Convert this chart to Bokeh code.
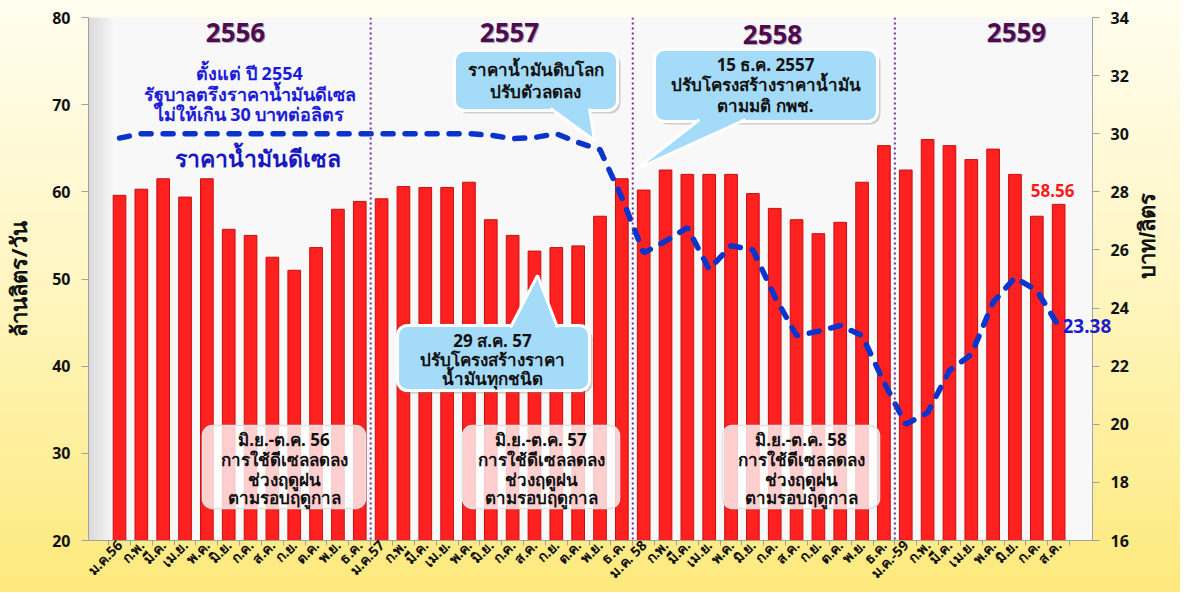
from math import pi
from bokeh.plotting import figure
from bokeh.models import Range1d, LinearAxis, FixedTicker, Span, Label
from bokeh.embed import file_html
from bokeh.resources import INLINE

# ---------------- data ----------------
months = ["ม.ค.56", "ก.พ.", "มี.ค.", "เม.ย.", "พ.ค.", "มิ.ย.", "ก.ค.", "ส.ค.", "ก.ย.", "ต.ค.", "พ.ย.", "ธ.ค.",
          "ม.ค.57", "ก.พ.", "มี.ค.", "เม.ย.", "พ.ค.", "มิ.ย.", "ก.ค.", "ส.ค.", "ก.ย.", "ต.ค.", "พ.ย.", "ธ.ค.",
          "ม.ค. 58", "ก.พ.", "มี.ค.", "เม.ย.", "พ.ค.", "มิ.ย.", "ก.ค.", "ส.ค.", "ก.ย.", "ต.ค.", "พ.ย.", "ธ.ค.",
          "ม.ค.-59", "ก.พ.", "มี.ค.", "เม.ย.", "พ.ค.", "มิ.ย.", "ก.ค.", "ส.ค."]
volume = [59.6, 60.3, 61.5, 59.4, 61.5, 55.7, 55.0, 52.5, 51.0, 53.6, 58.0, 58.9,
          59.2, 60.6, 60.5, 60.5, 61.1, 56.8, 55.0, 53.2, 53.6, 53.8, 57.2, 61.5,
          60.2, 62.5, 62.0, 62.0, 62.0, 59.8, 58.1, 56.8, 55.2, 56.5, 61.1, 65.3,
          62.5, 66.0, 65.3, 63.7, 64.9, 62.0, 57.2, 58.56]
price = [29.85, 30.0, 30.0, 30.0, 30.0, 30.0, 30.0, 30.0, 30.0, 30.0, 30.0, 30.0,
         30.0, 30.0, 30.0, 30.0, 30.0, 29.95, 29.83, 29.87, 30.0, 29.7, 29.45, 27.8,
         25.9, 26.3, 26.77, 25.33, 26.15, 26.0, 24.4, 23.05, 23.2, 23.4, 23.05, 21.45,
         20.0, 20.4, 21.85, 22.4, 24.2, 25.05, 24.6, 23.38]
years = ["2556", "2557", "2558", "2559"]
left_ticks = [20, 30, 40, 50, 60, 70, 80]
right_ticks = [16, 18, 20, 22, 24, 26, 28, 30, 32, 34]

FONT = "Noto Sans"

W, H = 1180, 592
FL, FR, FT, FB = 88, 88, 17, 52
x_lo, x_hi = -1.42, 44.55
y_lo, y_hi = 20, 80
r_lo, r_hi = 16, 34
FW = W - FL - FR
FH = H - FT - FB


def dx(px):  # page px -> data x
    return x_lo + (px - 8 - FL) / FW * (x_hi - x_lo)


def dy(py):  # page px -> data y (left axis)
    return y_lo + (8 + FT + FH - py) / FH * (y_hi - y_lo)


p = figure(width=W, height=H, x_range=Range1d(x_lo, x_hi), y_range=Range1d(y_lo, y_hi),
           output_backend="svg", toolbar_location=None,
           min_border_left=FL, min_border_right=FR, min_border_top=FT, min_border_bottom=FB)
p.extra_y_ranges = {"right": Range1d(r_lo, r_hi)}
p.styles = {"background": "linear-gradient(to bottom, #fffdee 0%, #fff6c4 45%, #fde97c 100%)"}
p.border_fill_alpha = 0
p.background_fill_color = "#f8f8f8"
p.outline_line_color = None
p.grid.visible = False

# left 3D wall shading
for k in range(8):
    p.quad(left=dx(96 + k * 3), right=dx(99 + k * 3), bottom=y_lo, top=y_hi,
           fill_color="#b8b8b8", fill_alpha=0.45 * (1 - k / 8), line_color=None)

idx = list(range(len(months)))

# axes
p.xaxis.ticker = FixedTicker(ticks=idx, minor_ticks=[i - 0.5 for i in range(len(months) + 1)])
p.xaxis.major_label_overrides = {i: m for i, m in enumerate(months)}
p.xaxis.major_label_orientation = 0.785
p.xaxis.major_tick_out = 0
p.xaxis.major_tick_in = 0
p.xaxis.minor_tick_out = 5
p.xaxis.minor_tick_in = 0
p.xaxis.minor_tick_line_color = "#a0a0a0"
p.xaxis.axis_line_color = "#a0a0a0"
p.xaxis.major_label_text_font = FONT
p.xaxis.major_label_text_font_style = "bold"
p.xaxis.major_label_text_font_size = "14px"
p.xaxis.major_label_text_color = "#111111"
p.xaxis.major_label_standoff = -3

p.yaxis.ticker = FixedTicker(ticks=left_ticks)
p.yaxis.axis_label = "ล้านลิตร/วัน"
ra = LinearAxis(y_range_name="right", ticker=FixedTicker(ticks=right_ticks), axis_label="บาท/ลิตร")
p.add_layout(ra, "right")
for ax in (p.yaxis[0], ra):
    ax.axis_line_color = "#a0a0a0"
    ax.major_tick_line_color = "#a0a0a0"
    ax.major_tick_out = 7
    ax.major_tick_in = 0
    ax.minor_tick_out = 0
    ax.minor_tick_in = 0
    ax.major_label_text_font = FONT
    ax.major_label_text_font_style = "bold"
    ax.major_label_text_font_size = "16px"
    ax.major_label_text_color = "#111111"
    ax.major_label_standoff = 11
    ax.axis_label_text_font = FONT
    ax.axis_label_text_font_style = "bold"
    ax.axis_label_text_font_size = "22px"
    ax.axis_label_text_color = "#111111"
p.yaxis[0].axis_label_standoff = 16
ra.axis_label_text_font = "Liberation Sans"
ra.axis_label_standoff = 16
ra.axis_label_text_baseline = "top"
if "axis_label_orientation" in ra.properties():
    ra.axis_label_orientation = pi / 2

# last price value, shown as an outer right-axis tick label pulled back over the frame edge
ra2 = LinearAxis(y_range_name="right", ticker=FixedTicker(ticks=[price[-1]]),
                 major_label_overrides={price[-1]: f"{price[-1]:.2f}"})
ra2.axis_line_color = None
ra2.major_tick_line_color = None
ra2.minor_tick_line_color = None
ra2.major_tick_out = 0
ra2.major_tick_in = 0
ra2.minor_tick_out = 0
ra2.minor_tick_in = 0
ra2.major_label_standoff = -113
ra2.major_label_text_font = FONT
ra2.major_label_text_font_style = "bold"
ra2.major_label_text_font_size = "19px"
ra2.major_label_text_color = "#1a1acc"
p.add_layout(ra2, "right")

# year dividers
for loc in (11.5, 23.5, 35.5):
    p.add_layout(Span(location=loc, dimension="height", line_color="#7030a0",
                      line_dash="2 3", line_width=2))

# bars
p.vbar(x=idx, top=volume, bottom=y_lo, width=0.58, fill_color="#ff2020",
       line_color="#c41010", line_width=1)

# price line
p.line(idx, price, y_range_name="right", line_color="#0a34cc", line_width=5.5,
       line_dash="10 12", line_cap="round")

# end label for volume
p.add_layout(Label(x=idx[-1], y=volume[-1], text=f"{volume[-1]:.2f}", x_offset=-6, y_offset=7,
                   text_align="center", text_baseline="bottom", text_color="#ff1a1a",
                   text_font=FONT, text_font_style="bold", text_font_size="17px"))


def lab(px, py, text, size, color, style="bold", align="center"):
    p.add_layout(Label(x=dx(px), y=dy(py), text=text, text_align=align, text_baseline="middle",
                       text_font=FONT, text_font_style=style, text_font_size=size,
                       text_color=color))


# year headings
for yr, (px, py) in zip(years, [(243, 40), (517, 40), (780, 42), (1024, 40)]):
    lab(px + 1, py + 1, yr, "26px", "#b8a8b8")
    lab(px, py, yr, "26px", "#4e0c50")

# blue notes
lab(257, 80, "ตั้งแต่ ปี 2554", "18px", "#1c1cd8")
lab(257, 101, "รัฐบาลตรึงราคาน้ำมันดีเซล", "18px", "#1c1cd8")
lab(257, 121, "ไม่ให้เกิน 30 บาทต่อลิตร", "18px", "#1c1cd8")
lab(265, 165, "ราคาน้ำมันดีเซล", "23px", "#1818c0")


def callout(box, tip_base, tip, lines, line_y, cx):
    l, t, r, b = box
    p.quad(left=dx(l + 3), right=dx(r + 3), top=dy(t + 3), bottom=dy(b + 3), fill_color="#808080",
           fill_alpha=0.35, line_color=None, border_radius=10)
    p.quad(left=dx(l), right=dx(r), top=dy(t), bottom=dy(b), fill_color="#a4dbf8",
           line_color="white", line_width=3, border_radius=10)
    (bx1, by1), (bx2, by2) = tip_base
    xs = [dx(bx1), dx(tip[0]), dx(bx2)]
    ys = [dy(by1), dy(tip[1]), dy(by2)]
    p.patch(xs, ys, fill_color="#a4dbf8", line_color=None)
    p.line(xs, ys, line_color="white", line_width=3)
    for txt, ly in zip(lines, line_y):
        lab(cx, ly, txt, "17px", "#111111")


callout((462, 58, 625, 118), ((558, 116), (597, 116)), (602, 148),
        ["ราคาน้ำมันดิบโลก", "ปรับตัวลดลง"], [77, 99], 543)
callout((662, 57, 885, 129), ((707, 127), (753, 127)), (643, 177),
        ["15 ธ.ค. 2557", "ปรับโครงสร้างราคาน้ำมัน", "ตามมติ กพช."], [72, 92, 113], 773)
callout((405, 333, 597, 398), ((518, 335), (565, 335)), (545, 283),
        ["29 ส.ค. 57", "ปรับโครงสร้างราคา", "น้ำมันทุกชนิด"], [348, 367, 386], 500)

# rainy-season boxes
for (l, r), yr in zip([(210, 373), (470, 627), (730, 887)], ["56", "57", "58"]):
    p.quad(left=dx(l), right=dx(r), top=dy(433), bottom=dy(516), fill_color="white",
           fill_alpha=0.78, line_color="#e0e0e0", line_width=1.5, border_radius=10)
    cx = (l + r) / 2
    for txt, ly in zip([f"มิ.ย.-ต.ค. {yr}", "การใช้ดีเซลลดลง", "ช่วงฤดูฝน", "ตามรอบฤดูกาล"],
                       [447, 467, 487, 505]):
        lab(cx, ly, txt, "17px", "#111111")

open("out.html", "w").write(file_html(p, INLINE))
